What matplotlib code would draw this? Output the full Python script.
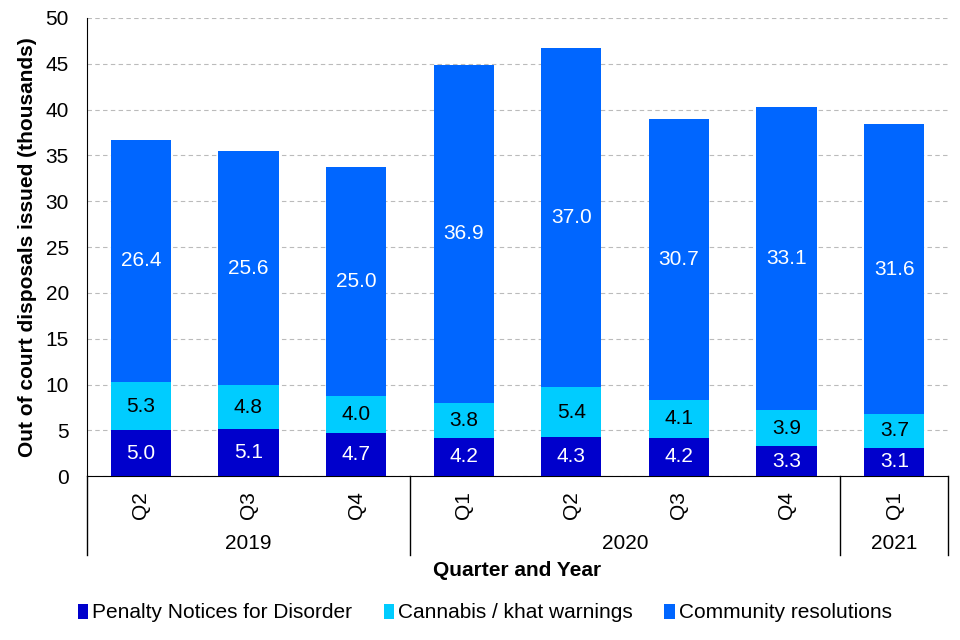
import numpy as np
import matplotlib.pyplot as plt

plt.rcParams['font.family'] = ['Liberation Sans', 'DejaVu Sans']

quarters = ["Q2", "Q3", "Q4", "Q1", "Q2", "Q3", "Q4", "Q1"]
years = ["2019", "2020", "2021"]
year_counts = [3, 4, 1]
pnd = [5.0, 5.1, 4.7, 4.2, 4.3, 4.2, 3.3, 3.1]
cannabis = [5.3, 4.8, 4.0, 3.8, 5.4, 4.1, 3.9, 3.7]
community = [26.4, 25.6, 25.0, 36.9, 37.0, 30.7, 33.1, 31.6]
series_names = ["Penalty Notices for Disorder", "Cannabis / khat warnings", "Community resolutions"]
colors = ["#0000CC", "#00CCFF", "#0066FF"]
text_colors = ["white", "black", "white"]
fs = 15

fig = plt.figure(figsize=(9.6, 6.4), dpi=100)
ax = fig.add_axes([0.0906, 0.256, 0.897, 0.716])

x = np.arange(len(quarters))
bottom = np.zeros(len(quarters))
handles = []
for vals, name, col, tc in zip([pnd, cannabis, community], series_names, colors, text_colors):
    vals = np.array(vals)
    bars = ax.bar(x, vals, 0.56, bottom=bottom, color=col, label=name, zorder=3)
    handles.append(bars)
    for xi, b, v in zip(x, bottom, vals):
        ax.text(xi, b + v / 2, f"{v:.1f}", ha="center", va="center",
                color=tc, fontsize=fs, zorder=4)
    bottom += vals

ax.set_xlim(-0.5, len(quarters) - 0.5)
ax.set_ylim(0, 50)
ax.set_yticks(np.arange(0, 51, 5))
ax.tick_params(axis="y", labelsize=fs, length=0, pad=13)
ax.set_xticks([])
ax.yaxis.grid(True, linestyle=(0, (4, 3)), color="#BBBBBB", linewidth=0.8, zorder=0)
ax.spines["top"].set_visible(False)
ax.spines["right"].set_visible(False)
ax.spines["left"].set_color("black")
ax.spines["bottom"].set_color("black")
ax.set_ylabel("Out of court disposals issued (thousands)", fontsize=fs,
              fontweight="bold")
ax.yaxis.set_label_coords(-0.058, 0.5)

# hierarchical category axis below the plot
trans = ax.get_xaxis_transform()
for xi, q in zip(x, quarters):
    ax.text(xi, -0.063, q, transform=trans, rotation=90, ha="center",
            va="center", fontsize=fs, clip_on=False)
edges = [-0.5]
for c in year_counts:
    edges.append(edges[-1] + c)
for e in edges:
    ax.plot([e, e], [0, -0.1725], transform=trans, color="black",
            linewidth=1, clip_on=False)
for yr, lo, hi in zip(years, edges[:-1], edges[1:]):
    ax.text((lo + hi) / 2, -0.146, yr, transform=trans, ha="center",
            va="center", fontsize=fs, clip_on=False)

fig.text(0.539, 1 - 570 / 640, "Quarter and Year", ha="center", va="center",
         fontsize=fs, fontweight="bold")

fig.legend(handles, series_names, loc="center", bbox_to_anchor=(0.505, 1 - 613 / 640),
           ncol=3, frameon=False, fontsize=fs, handlelength=0.5, handleheight=0.7,
           handletextpad=0.2, columnspacing=1.5)

fig.savefig("out.png", dpi=100)
